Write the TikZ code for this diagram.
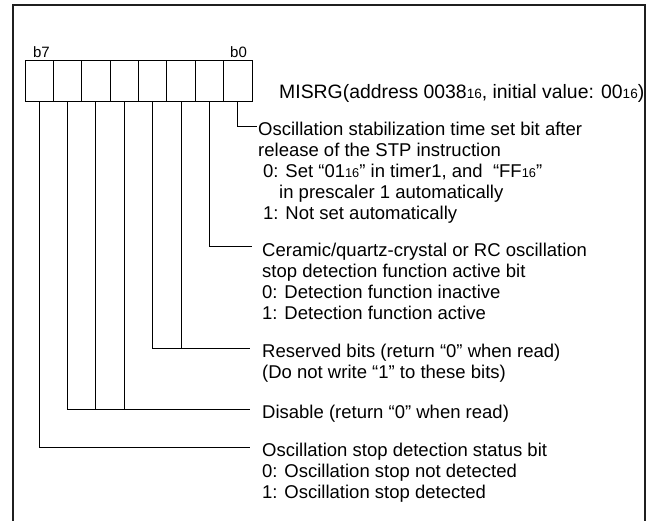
\documentclass[tikz,border=0pt]{standalone}
\usepackage{fontspec}
\setmainfont{Liberation Sans}
\newcommand{\hexsub}[1]{{\fontsize{12.8}{12.8}\selectfont #1}}
\begin{document}
\begin{tikzpicture}[x=1pt,y=-1pt,
  cell/.style={draw, line width=1pt, minimum width=28.375pt, minimum height=41pt, inner sep=0pt, outer sep=0pt},
  lead/.style={line width=1pt},
  txt/.style={anchor=base west, inner sep=0pt, font=\fontsize{18.5}{21}\selectfont},
  bigtxt/.style={anchor=base west, inner sep=0pt, font=\fontsize{19.4}{21}\selectfont},
  bitlbl/.style={anchor=base, inner sep=0pt, font=\fontsize{15}{15}\selectfont},
  frame/.style={line width=2pt, draw=black!88}]
\useasboundingbox (0,0) rectangle (650,521);
\draw[frame] (12.5,530) -- (12.5,5) -- (644.5,5) -- (644.5,530);
\foreach \i in {0,...,7} {
  \pgfmathtruncatemacro\bb{7-\i}
  \node[cell] (c\bb) at ({25+28.375*(\i+0.5)},81.5) {};
}
\node[bitlbl] (l7) at (41.5,58) {b7};
\node[bitlbl] (l0) at (238.5,58) {b0};
\node[bigtxt] (reg) at (279,99) {MISRG(address 0038{\fontsize{13.5}{13.5}\selectfont 16}, initial value: 00{\fontsize{13.5}{13.5}\selectfont 16})};
% leads
\coordinate (e0) at (257,127);
\coordinate (e1) at (252,247);
\coordinate (e23) at (250,348);
\coordinate (e456) at (250,409);
\coordinate (e7) at (250,447);
\draw[lead] (c0.south) |- (e0);
\draw[lead] (c1.south) |- (e1);
\draw[lead] (c3.south) |- (e23);
\draw[lead] (c2.south) -- (c2.south |- e23);
\draw[lead] (c6.south) |- (e456);
\draw[lead] (c5.south) -- (c5.south |- e456);
\draw[lead] (c4.south) -- (c4.south |- e456);
\draw[lead] (c7.south) |- (e7);
% block 1
\node[txt] (t1a) at (258,136) {Oscillation stabilization time set bit after};
\node[txt] (t1b) at (258,157) {release of the STP instruction};
\node[txt] (t1c) at (263,178) {0: Set “01\hexsub{16}” in timer1, and \ “FF\hexsub{16}”};
\node[txt] (t1d) at (279,199) {in prescaler 1 automatically};
\node[txt] (t1e) at (263,220) {1: Not set automatically};
% block 2
\node[txt] (t2a) at (262,256) {Ceramic/quartz-crystal or RC oscillation};
\node[txt] (t2b) at (262,277) {stop detection function active bit};
\node[txt] (t2c) at (262,298) {0: Detection function inactive};
\node[txt] (t2d) at (262,319) {1: Detection function active};
% block 3
\node[txt] (t3a) at (262,357) {Reserved bits (return “0” when read)};
\node[txt] (t3b) at (262,378) {(Do not write “1” to these bits)};
% block 4
\node[txt] (t4a) at (262,418) {Disable (return “0” when read)};
% block 5
\node[txt] (t5a) at (262,456) {Oscillation stop detection status bit};
\node[txt] (t5b) at (262,477) {0: Oscillation stop not detected};
\node[txt] (t5c) at (262,498) {1: Oscillation stop detected};
\end{tikzpicture}
\end{document}
